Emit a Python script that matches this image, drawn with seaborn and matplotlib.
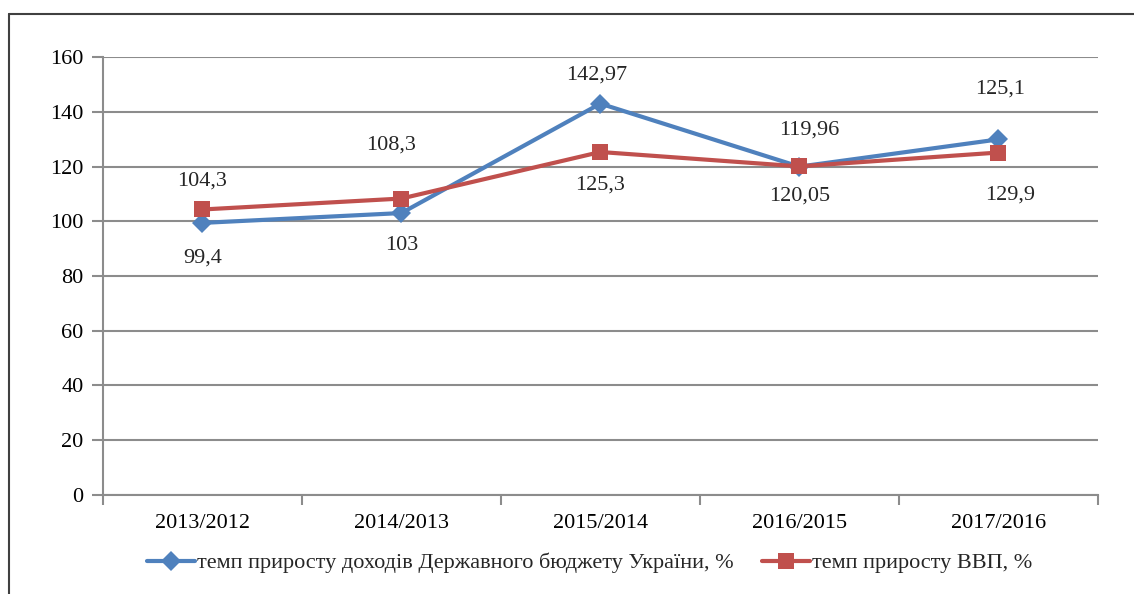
import matplotlib
matplotlib.use('Agg')
import matplotlib.pyplot as plt
import seaborn as sns
import pandas as pd
from matplotlib.lines import Line2D

# data
periods = ['2013/2012', '2014/2013', '2015/2014', '2016/2015', '2017/2016']
budget_growth = [99.4, 103, 142.97, 119.96, 129.9]
gdp_growth = [104.3, 108.3, 125.3, 120.05, 125.1]
# label texts exactly as printed on the chart
budget_labels = ['99,4', '103', '142,97', '119,96', '125,1']
gdp_labels = ['104,3', '108,3', '125,3', '120,05', '129,9']

budget_name = 'темп приросту доходів Державного бюджету України, %'
gdp_name = 'темп приросту ВВП, %'

blue = '#4F81BD'
red = '#C0504D'
grid_c = '#8C8C8C'

sns.set_theme(style='white')
plt.rcParams['font.family'] = ['Liberation Serif', 'DejaVu Serif']
plt.rcParams['font.size'] = 16

df = pd.DataFrame({'period': periods, 'budget': budget_growth, 'gdp': gdp_growth})

fig = plt.figure(figsize=(11.34, 5.94), dpi=100)
ax = fig.add_axes([0.0908, 0.1667, 0.8772, 0.7373])

sns.lineplot(data=df, x='period', y='budget', ax=ax, color=blue, linewidth=3,
             marker='D', markersize=10, markeredgewidth=0, label=budget_name, sort=False)
sns.lineplot(data=df, x='period', y='gdp', ax=ax, color=red, linewidth=3,
             marker='s', markersize=11.5, markeredgewidth=0, label=gdp_name, sort=False)

# data labels (offsets in pixels)
budget_off = [(0, -35), (0, -32), (-4, 29), (10, 37), (2, 50)]
gdp_off = [(0, 28), (-10, 53), (0, -33), (0, -30), (12, -42)]
for i in range(len(periods)):
    ax.annotate(budget_labels[i], (i, budget_growth[i]), xytext=budget_off[i],
                textcoords='offset pixels', ha='center', va='center', fontsize=16)
    ax.annotate(gdp_labels[i], (i, gdp_growth[i]), xytext=gdp_off[i],
                textcoords='offset pixels', ha='center', va='center', fontsize=16)

ax.set_xlim(-0.5, len(periods) - 0.5)
ax.set_ylim(0, 160)
ax.set_yticks(range(0, 161, 20))
ax.set_xticks(range(len(periods)))
ax.set_xticklabels(periods)
ax.set_xticks([i - 0.5 for i in range(len(periods) + 1)], minor=True)
ax.set_xlabel('')
ax.set_ylabel('')

ax.yaxis.grid(True, color=grid_c, linewidth=1.5)
ax.set_axisbelow(True)
for s in ['top', 'right']:
    ax.spines[s].set_visible(False)
for s in ['left', 'bottom']:
    ax.spines[s].set_color(grid_c)
    ax.spines[s].set_linewidth(1.5)

ax.tick_params(axis='y', which='major', left=True, length=8, width=1.5, color=grid_c,
               labelsize=16, pad=6, labelcolor='black')
ax.tick_params(axis='x', which='major', bottom=False, length=0, labelsize=16, pad=14,
               labelcolor='black')
ax.tick_params(axis='x', which='minor', bottom=True, length=7, width=1.5, color=grid_c)

ax.get_legend().remove()
handles, labels = ax.get_legend_handles_labels()
fig.legend(handles, labels, loc='center', bbox_to_anchor=(0.52, 0.052), ncol=2,
           frameon=False, fontsize=16, handlelength=2.15, handletextpad=0.1,
           columnspacing=1.3)

# outer chart frame (left and top edges only visible)
fig.add_artist(Line2D([9 / 1134, 9 / 1134], [0, 1 - 14 / 594], color='#404040', linewidth=1.5,
                      transform=fig.transFigure))
fig.add_artist(Line2D([9 / 1134, 1], [1 - 14 / 594, 1 - 14 / 594], color='#404040', linewidth=1.5,
                      transform=fig.transFigure))

fig.savefig('out.png', dpi=100)
